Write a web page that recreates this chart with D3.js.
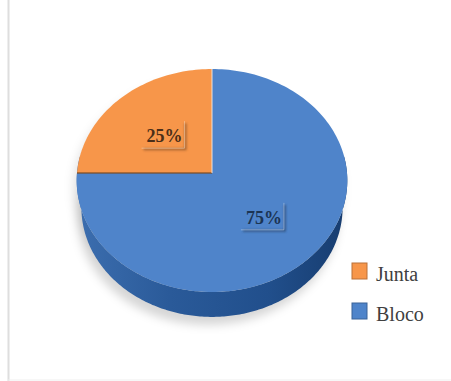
<!DOCTYPE html>
<html>
<head>
<meta charset="utf-8">
<script src="https://cdn.jsdelivr.net/npm/d3@7"></script>
<style>
  html, body { margin: 0; padding: 0; background: #fff; }
  svg { display: block; }
</style>
</head>
<body>
<svg id="chart" width="451" height="381"></svg>
<script>
// Share of failures by location
const categories = ["Junta", "Bloco"];
const values = [25, 75];
const topColors = ["#F7964A", "#4F84CA"];
const sideStops = [["#3d6fb0", 0], ["#2a5a99", 0.35], ["#214f8c", 0.7], ["#163b6d", 1]];
const labelColors = ["#4a2e18", "#1b3454"];

const W = 451, H = 381;
const svg = d3.select("#chart");

// Perspective view of a tilted disc
const view = { cx: 212, cy: 173, f: 1143.5, dist: 8.47, sinT: 0.822, cosT: 0.569, depth: 0.37 };
function project(a, r, h) {
  const X = r * Math.sin(a), Z = -r * Math.cos(a);
  const v = Z * view.sinT - h * view.cosT;
  const d = view.dist - Z * view.cosT - h * view.sinT;
  return [view.cx + view.f * X / d, view.cy + view.f * v / d];
}

const pie = d3.pie().sort(null).startAngle(-Math.PI / 2).endAngle(3 * Math.PI / 2);
const arcs = pie(values);

const defs = svg.append("defs");
defs.append("filter").attr("id", "soft").attr("x", "-20%").attr("y", "-20%").attr("width", "140%").attr("height", "140%")
  .append("feGaussianBlur").attr("stdDeviation", 5);
defs.append("filter").attr("id", "soft1").attr("x", "-20%").attr("y", "-50%").attr("width", "140%").attr("height", "200%")
  .append("feGaussianBlur").attr("stdDeviation", 1);
const grad = defs.append("linearGradient").attr("id", "wall")
  .attr("gradientUnits", "userSpaceOnUse")
  .attr("x1", view.cx - 140).attr("x2", view.cx + 140).attr("y1", 0).attr("y2", 0);
sideStops.forEach(([c, o]) => grad.append("stop").attr("offset", o).attr("stop-color", c));

// Frame lines
svg.append("line").attr("x1", 8.5).attr("x2", 8.5).attr("y1", 0).attr("y2", H)
  .attr("stroke", "#dedede").attr("stroke-width", 2);
svg.append("line").attr("x1", 8).attr("x2", W).attr("y1", 380).attr("y2", 380)
  .attr("stroke", "#efefef").attr("stroke-width", 1);

const line = d3.line();
const N = 240;
const rimPts = (a0, a1, h, n) => d3.range(n + 1).map(i => project(a0 + (a1 - a0) * i / n, 1, h));

// Soft drop shadow under the disc
const shadow = svg.append("g").attr("filter", "url(#soft)").attr("transform", "translate(-4,8)");
shadow.append("path").attr("d", line(rimPts(0, 2 * Math.PI, -view.depth, N)) + "Z").attr("fill", "#000").attr("opacity", 0.16);
shadow.append("path").attr("d", line(rimPts(0, 2 * Math.PI, 0, N)) + "Z").attr("fill", "#000").attr("opacity", 0.1);

// Side wall along the front half of the disc
const w0 = Math.PI / 2 - 0.15, w1 = 3 * Math.PI / 2 + 0.15;
const wallPts = rimPts(w0, w1, 0, N).concat(rimPts(w1, w0, -view.depth, N));
svg.append("path").attr("d", line(wallPts) + "Z").attr("fill", "url(#wall)");

// Top faces
svg.append("g").selectAll("path").data(arcs).join("path")
  .attr("d", s => {
    const steps = Math.ceil((s.endAngle - s.startAngle) / (2 * Math.PI) * N);
    return line([[view.cx, view.cy]].concat(rimPts(s.startAngle, s.endAngle, 0, steps))) + "Z";
  })
  .attr("fill", (s, i) => topColors[i]);

// Edges between slices
const c0 = [view.cx, view.cy];
svg.append("path").attr("d", line([c0, project(arcs[0].startAngle, 1, 0)]))
  .attr("stroke", "#7a4a22").attr("stroke-width", 1.6).attr("opacity", 0.8);
svg.append("path").attr("d", line([c0, project(arcs[0].endAngle, 1, 0)]))
  .attr("stroke", "#f4e6da").attr("stroke-width", 1.2).attr("opacity", 0.8);

// Value labels with shadowed boxes
const labelG = svg.append("g");
arcs.forEach((s, i) => {
  const mid = (s.startAngle + s.endAngle) / 2;
  const [lx, ly] = project(mid, 0.52, 0);
  const bw = 44, bh = 28;
  const g = labelG.append("g").attr("transform", `translate(${lx},${ly + 2})`);
  g.append("path")
    .attr("d", `M${bw / 2},${-bh / 2 + 2} V${bh / 2} H${-bw / 2 + 2}`)
    .attr("fill", "none").attr("stroke", d3.color(topColors[i]).darker(1.6)).attr("stroke-width", 2)
    .attr("opacity", 0.8).attr("filter", "url(#soft1)");
  g.append("path")
    .attr("d", `M${-bw / 2},${bh / 2 - 1} H${bw / 2 - 1} V${-bh / 2}`)
    .attr("fill", "none").attr("stroke", "#ffffff").attr("stroke-width", 1).attr("opacity", 0.35);
  g.append("text").attr("x", 1).attr("y", 7)
    .attr("text-anchor", "middle")
    .attr("font-family", "'Liberation Serif', 'DejaVu Serif', serif")
    .attr("font-weight", "bold").attr("font-size", 18)
    .attr("fill", labelColors[i])
    .text(`${values[i]}%`);
});

// Legend
const legend = svg.append("g");
categories.forEach((c, i) => {
  const y = 263 + i * 40;
  legend.append("rect").attr("x", 352).attr("y", y).attr("width", 15).attr("height", 16)
    .attr("fill", topColors[i]).attr("stroke", d3.color(topColors[i]).darker(0.8)).attr("stroke-width", 1);
  legend.append("text").attr("x", 376).attr("y", y + 18)
    .attr("font-family", "'Liberation Serif', 'DejaVu Serif', serif")
    .attr("font-size", 20).attr("fill", "#404040")
    .text(c);
});
</script>
</body>
</html>
